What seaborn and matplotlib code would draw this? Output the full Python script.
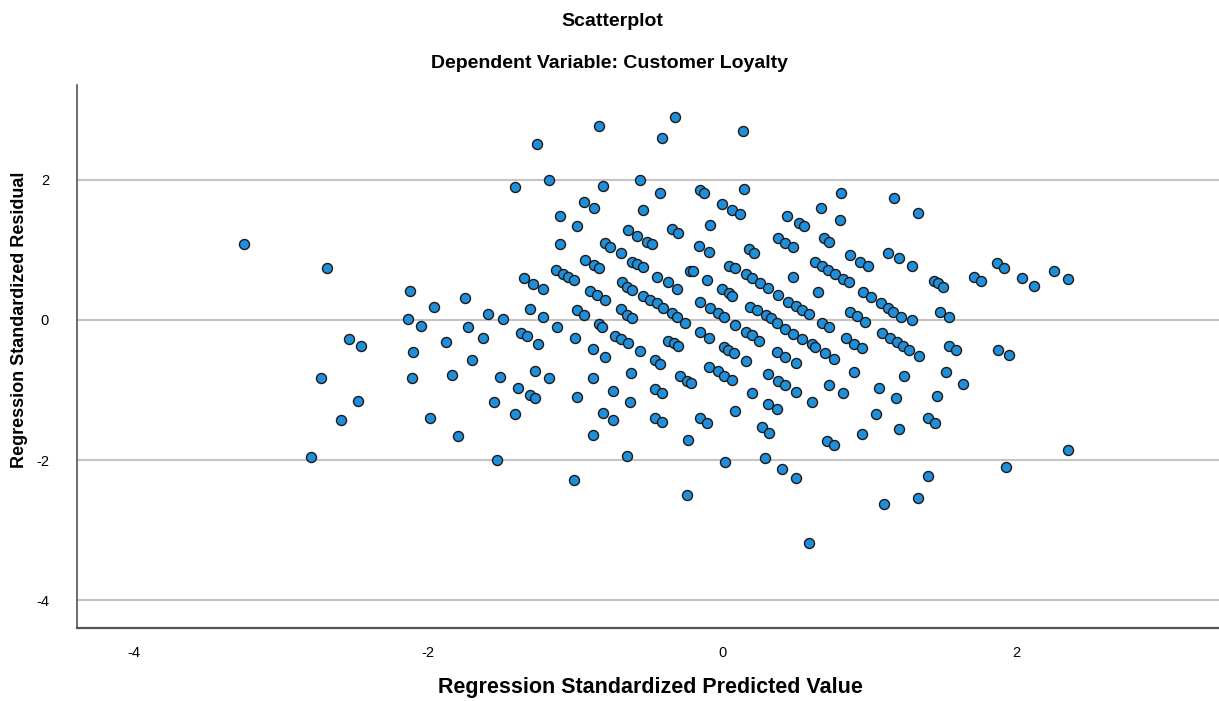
import pandas as pd
import matplotlib
matplotlib.use("Agg")
import matplotlib.pyplot as plt
import seaborn as sns

# Regression standardized predicted value / residual
pred = [
    -3.25, -2.69, -2.12, -1.96, -1.75, -2.14, -2.05, -1.73, -1.59, -2.54,
    -2.46, -2.73, -2.48, -2.59, -2.80, -2.10, -2.11, -1.99, -1.80, -1.84,
    -1.88, -1.70, -1.63,
    -1.26, -0.84, -0.32, -0.41, -1.41, -1.18, -0.81, -0.56, -0.42, -0.94,
    -0.87, -0.54, -1.10, -0.99, -0.64, -0.58, -0.51, -0.48, -0.34, -0.30,
    -1.10, -0.80, -0.76, -0.69, -0.61, -0.58, -0.54, -0.93, -0.87, -0.84,
    -1.13, -1.08, -1.05, -1.01, -1.35, -1.29, -1.22, -0.68, -0.65, -0.61,
    -0.44, -0.37, -0.31, -0.22, -0.90, -0.85, -0.80, -0.54, -0.49, -0.44,
    -0.40, -0.34, -1.49, -1.31, -1.22, -0.99, -0.94, -0.69, -0.65,
    -1.37, -1.33, -1.25, -1.12, -1.00, -0.84, -0.82, -0.88, -0.80, -0.73,
    -0.69, -0.64, -0.56, -0.61, -0.31, -0.25, -0.37, -0.33, -0.30, -0.46,
    -0.42, -1.51, -1.39, -1.27, -1.18, -1.31, -1.27, -1.55, -1.41, -0.99,
    -0.88, -0.74, -0.62, -0.63, -0.81, -0.74, -0.88, -0.46, -0.41, -0.46,
    -0.41, -0.29, -0.24, -0.23, -1.53, -0.65, -1.01, -0.24,
    0.14, -0.15, -0.12, 0.15, 0.00, 0.07, 0.12, -0.08, -0.16, -0.09,
    0.18, 0.22, -0.20, -0.10, 0.05, 0.09, 0.16, 0.20, 0.26, 0.31,
    0.38, 0.00, 0.05, 0.07, -0.15, -0.08, -0.03, 0.01, 0.19, 0.24,
    0.30, 0.33, 0.44, 0.52, 0.56, 0.67, 0.81, 0.80, 0.38, 0.43,
    0.48, 0.69, 0.73, 0.63, 0.68, 0.72, 0.77, 0.82, 0.86, 0.87,
    0.94, 0.99, 0.48, 0.65, 0.96, 1.01, 1.08, 1.13, 1.13, 0.45,
    0.50, 0.54, 0.59, 0.87, 0.92,
    -0.15, -0.09, 0.09, 0.16, 0.20, 0.25, 0.37, 0.43, 0.48, 0.54,
    0.61, 0.63, 0.68, 0.73, 0.97, 0.01, 0.04, 0.08, 0.16, 0.37,
    0.43, 0.50, 0.70, 0.76, 0.84, 0.90, 0.95, 1.09, -0.21, -0.09,
    -0.03, 0.01, 0.07, 0.31, 0.38, 0.43, 0.50, 0.20, 0.09, 0.31,
    0.37, 0.61, 0.73, 0.82, 0.90, 1.07, 1.05, 0.95, -0.15, -0.10,
    0.27, 0.32, 0.71, 0.76, 0.02, 0.29, 0.41, 0.50, 1.10, 0.59,
    1.17, 1.33, 1.20, 1.29, 1.44, 1.47, 1.50, 1.71, 1.76, 1.87,
    1.92, 2.04, 2.12, 2.26, 2.35, 1.16, 1.22, 1.29, 1.48, 1.54,
    1.14, 1.19, 1.23, 1.27, 1.34, 1.54, 1.59, 1.88, 1.95, 1.24,
    1.52, 1.64, 1.18, 1.46, 1.40, 1.45, 1.20, 2.35, 1.93, 1.40,
    1.33,
]
resid = [
    1.09, 0.74, 0.41, 0.19, 0.31, 0.01, -0.09, -0.10, 0.09, -0.27,
    -0.37, -0.83, -1.16, -1.43, -1.96, -0.46, -0.83, -1.40, -1.66, -0.79,
    -0.31, -0.57, -0.26,
    2.51, 2.77, 2.90, 2.60, 1.90, 2.00, 1.91, 2.00, 1.81, 1.69,
    1.60, 1.57, 1.49, 1.34, 1.29, 1.20, 1.11, 1.09, 1.30, 1.24,
    1.09, 1.10, 1.04, 0.96, 0.83, 0.80, 0.76, 0.86, 0.79, 0.74,
    0.71, 0.66, 0.61, 0.57, 0.60, 0.51, 0.44, 0.54, 0.47, 0.43,
    0.61, 0.54, 0.44, 0.70, 0.41, 0.36, 0.29, 0.34, 0.29, 0.24,
    0.17, 0.10, 0.01, 0.16, 0.04, 0.14, 0.07, 0.16, 0.07,
    -0.19, -0.23, -0.34, -0.10, -0.26, -0.06, -0.10, -0.41, -0.53, -0.23,
    -0.27, -0.33, -0.44, 0.03, 0.04, -0.04, -0.30, -0.33, -0.37, -0.57,
    -0.63, -0.81, -0.97, -0.73, -0.83, -1.07, -1.11, -1.17, -1.34, -1.10,
    -0.83, -1.01, -0.76, -1.17, -1.33, -1.43, -1.64, -0.99, -1.04, -1.40,
    -1.46, -0.80, -0.87, -1.71, -2.00, -1.94, -2.29, -2.50,
    2.70, 1.86, 1.81, 1.87, 1.66, 1.57, 1.51, 1.36, 1.06, 0.97,
    1.01, 0.96, 0.70, 0.57, 0.77, 0.74, 0.66, 0.60, 0.53, 0.46,
    0.36, 0.44, 0.39, 0.34, 0.26, 0.17, 0.10, 0.04, 0.19, 0.14,
    0.07, 0.03, 1.49, 1.39, 1.34, 1.60, 1.81, 1.43, 1.17, 1.10,
    1.04, 1.17, 1.11, 0.83, 0.77, 0.71, 0.66, 0.59, 0.54, 0.93,
    0.83, 0.77, 0.61, 0.40, 0.40, 0.33, 0.24, 0.17, 0.96, 0.26,
    0.20, 0.14, 0.09, 0.11, 0.06,
    -0.17, -0.26, -0.07, -0.17, -0.21, -0.30, -0.04, -0.13, -0.20, -0.27,
    -0.34, -0.39, -0.04, -0.10, -0.03, -0.39, -0.43, -0.47, -0.59, -0.46,
    -0.53, -0.61, -0.47, -0.56, -0.26, -0.34, -0.40, -0.19, -0.90, -0.67,
    -0.73, -0.80, -0.86, -0.77, -0.87, -0.93, -1.03, -1.04, -1.30, -1.20,
    -1.27, -1.17, -0.93, -1.04, -0.74, -0.97, -1.34, -1.63, -1.40, -1.47,
    -1.53, -1.61, -1.73, -1.79, -2.03, -1.97, -2.13, -2.26, -2.63, -3.19,
    1.74, 1.53, 0.89, 0.77, 0.56, 0.53, 0.47, 0.61, 0.56, 0.81,
    0.74, 0.60, 0.49, 0.70, 0.59, 0.11, 0.04, 0.00, 0.11, 0.04,
    -0.26, -0.31, -0.37, -0.43, -0.51, -0.37, -0.43, -0.43, -0.50, -0.80,
    -0.74, -0.91, -1.11, -1.09, -1.40, -1.47, -1.56, -1.86, -2.10, -2.23,
    -2.54,
]
x_ticks = [-4, -2, 0, 2]
y_ticks = [-4, -2, 0, 2]

df = pd.DataFrame({"pred": pred, "resid": resid})

sns.set_style("white")
plt.rcParams["font.family"] = ["Liberation Sans", "DejaVu Sans"]
plt.rcParams["axes.unicode_minus"] = False
plt.rcParams["text.color"] = "black"

fig = plt.figure(figsize=(12.19, 7.01), dpi=100)
ax = fig.add_axes([0.063, 0.104, 0.937, 0.775])

# horizontal reference lines like SPSS
for yv in y_ticks:
    ax.axhline(yv, color="#c4c4c4", lw=1.5, zorder=0)

sns.scatterplot(data=df, x="pred", y="resid", ax=ax, s=52,
                color="#1f8fda", edgecolor="#1a1a1a", linewidth=1.0, zorder=3)

ax.set_xlim(-4.39, 3.38)
ax.set_ylim(-4.4, 3.357)
ax.set_xticks(x_ticks)
ax.set_yticks(y_ticks)
ax.tick_params(axis="both", length=0, labelsize=10.5, colors="black")
ax.tick_params(axis="x", pad=13)
ax.tick_params(axis="y", pad=20)
ax.set_xlabel("")
ax.set_ylabel("")

for side in ["top", "right"]:
    ax.spines[side].set_visible(False)
ax.spines["left"].set_color("#555555")
ax.spines["left"].set_linewidth(1.2)
ax.spines["bottom"].set_color("#555555")
ax.spines["bottom"].set_linewidth(1.6)

fig.text(0.502, 1 - 22 / 701, "Scatterplot", ha="center", va="center",
         fontsize=14, weight="bold")
fig.text(0.5, 1 - 64 / 701, "Dependent Variable: Customer Loyalty",
         ha="center", va="center", fontsize=14, weight="bold")
fig.text(650 / 1219, 1 - 688 / 701, "Regression Standardized Predicted Value",
         ha="center", va="center", fontsize=15.5, weight="bold")
fig.text(20 / 1219, 1 - 320 / 701, "Regression Standardized Residual",
         ha="center", va="center", rotation=90, fontsize=13, weight="bold")

fig.savefig("out.png", dpi=100)
